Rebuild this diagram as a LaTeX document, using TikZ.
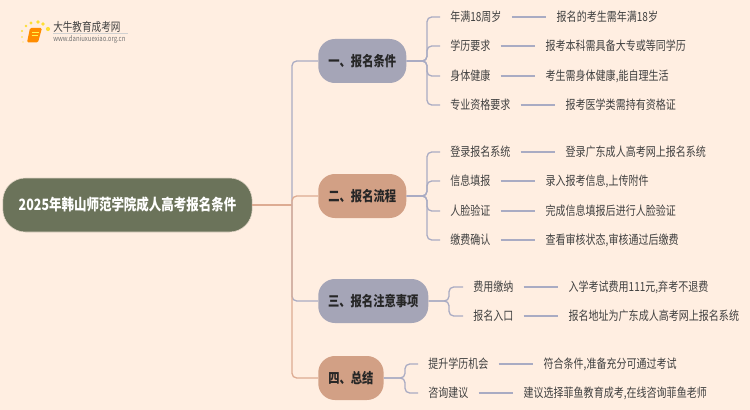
\documentclass[tikz,border=0pt]{standalone}
\usepackage{xcolor}
\usepackage{fontspec}
\setmainfont{Noto Sans CJK SC}[FakeStretch=0.8]
\usepackage{tikz}
\usetikzlibrary{positioning}
\definecolor{paper}{HTML}{FFEEE1}
\definecolor{rootgreen}{HTML}{6B735A}
\definecolor{headgrey}{HTML}{A5A5B7}
\definecolor{headtan}{HTML}{D2A085}
\definecolor{linegrey}{HTML}{A9ABC3}
\definecolor{linetan}{HTML}{DDAB92}
\definecolor{inkgrey}{HTML}{404040}

\begin{document}
\begin{tikzpicture}[
    x=0.75pt, y=-0.75pt,
    root/.style={draw=paper!80!rootgreen, fill=rootgreen, rounded corners=17pt, minimum width=187pt, minimum height=40.5pt, inner sep=0pt, text=white, font=\fontsize{11.7pt}{13pt}\selectfont\bfseries},
    head/.style={rounded corners=12.5pt, minimum height=33pt, inner sep=0pt, anchor=west, font=\fontsize{10.6pt}{12pt}\selectfont\bfseries, text=black!85},
    leaf/.style={inner sep=0pt, text height=7.5pt, text depth=1pt, text=inkgrey, font=\fontsize{9.4pt}{11pt}\selectfont},
    item/.style={leaf, anchor=west},
    twig/.style={draw=linegrey, line width=0.95pt, rounded corners=3.5pt},
    tantwig/.style={draw=linetan, line width=0.95pt, rounded corners=3.5pt},
    link/.style={draw=linegrey, line width=0.95pt, shorten <=7.5pt, shorten >=7.5pt}
]
    \useasboundingbox[fill=paper] (0,0) rectangle (750,410);

    % logo
    \foreach \dotx/\doty/\dotr in {22/37/0.9, 23/42/0.7, 22/31/1.1, 26/26/1.4, 31/23/1.7, 38/22/1.8, 43/24/1.8, 48/29/2.1}
        \fill[yellow!75!orange!80] (\dotx,\doty) circle (\dotr);
    \fill[orange!90!yellow, rounded corners=1pt] (30,28) -- (42,28) -- (38,42.5) -- (27,42.5) -- cycle;
    \draw[yellow!70, line width=0.6pt] (32,32) -- (38.5,32) (31.5,35) -- (37.5,35);
    \node[inner sep=0pt, anchor=west, text=inkgrey, font=\fontsize{9pt}{10pt}\selectfont] (brand) at (53,27) {大牛教育成考网};
    \node[inner sep=0pt, anchor=west, text=black!55, font=\fontsize{5.6pt}{6pt}\selectfont] (site) at (53,39) {www.daniuxuexiao.org.cn};
    \draw[black!18, line width=0.5pt] (53,33.5) -- (128,33.5);

    % main nodes
    \node[root] (title) at (127.5,205) {2025年韩山师范学院成人高考报名条件};
    \node[head, fill=headgrey, minimum width=66pt] (cond) at (318,61) {一、报名条件};
    \node[head, fill=headtan, minimum width=66pt] (flow) at (318,196) {二、报名流程};
    \node[head, fill=headgrey, minimum width=82.5pt] (note) at (318,301) {三、报名注意事项};
    \node[head, fill=headtan, minimum width=49pt] (sum) at (318,378) {四、总结};

    % trunk
    \coordinate (trunk) at (292,205);
    \draw[tantwig] (title.east) -- (trunk);
    \draw[twig] (trunk) |- (cond.west);
    \draw[tantwig] (trunk) |- (flow.west);
    \draw[twig] (trunk) |- (note.west);
    \draw[tantwig] (trunk) |- (sum.west);

    % first branch
    \node[item] (age) at (450,17) {年满18周岁};
    \node[item] (edu) at (450,46) {学历要求};
    \node[item] (body) at (450,76) {身体健康};
    \node[item] (major) at (450,105) {专业资格要求};
    \node[leaf, right=41pt of age] (agetxt) {报名的考生需年满18岁};
    \node[leaf, right=41pt of edu] (edutxt) {报考本科需具备大专或等同学历};
    \node[leaf, right=41pt of body] (bodytxt) {考生需身体健康,能自理生活};
    \node[leaf, right=41pt of major] (majortxt) {报考医学类需持有资格证};

    % second branch
    \node[item] (login) at (450,152) {登录报名系统};
    \node[item] (info) at (450,181) {信息填报};
    \node[item] (face) at (450,211) {人脸验证};
    \node[item] (fee) at (450,240) {缴费确认};
    \node[leaf, right=41pt of login] (logintxt) {登录广东成人高考网上报名系统};
    \node[leaf, right=41pt of info] (infotxt) {录入报考信息,上传附件};
    \node[leaf, right=41pt of face] (facetxt) {完成信息填报后进行人脸验证};
    \node[leaf, right=41pt of fee] (feetxt) {查看审核状态,审核通过后缴费};

    % third branch
    \node[item] (pay) at (473,287) {费用缴纳};
    \node[item] (entry) at (473,316) {报名入口};
    \node[leaf, right=41pt of pay] (paytxt) {入学考试费用111元,弃考不退费};
    \node[leaf, right=41pt of entry] (entrytxt) {报名地址为广东成人高考网上报名系统};

    % fourth branch
    \node[item] (lift) at (428,364) {提升学历机会};
    \node[item] (ask) at (428,393) {咨询建议};
    \node[leaf, right=41pt of lift] (lifttxt) {符合条件,准备充分可通过考试};
    \node[leaf, right=41pt of ask] (asktxt) {建议选择菲鱼教育成考,在线咨询菲鱼老师};

    % forks
    \coordinate (forka) at (427,61);
    \coordinate (forkb) at (427,196);
    \coordinate (forkc) at (449,301);
    \coordinate (forkd) at (405,378);
    \foreach \n in {age,edu,body,major}
        \draw[twig, shorten >=7.5pt] (cond.east) -- (forka) |- (\n.west);
    \foreach \n in {login,info,face,fee}
        \draw[twig, shorten >=7.5pt] (flow.east) -- (forkb) |- (\n.west);
    \foreach \n in {pay,entry}
        \draw[twig, shorten >=7.5pt] (note.east) -- (forkc) |- (\n.west);
    \foreach \n in {lift,ask}
        \draw[twig, shorten >=7.5pt] (sum.east) -- (forkd) |- (\n.west);

    % links
    \foreach \n in {age,edu,body,major,login,info,face,fee,pay,entry,lift,ask}
        \draw[link] (\n.east) -- (\n txt.west);
\end{tikzpicture}
\end{document}
